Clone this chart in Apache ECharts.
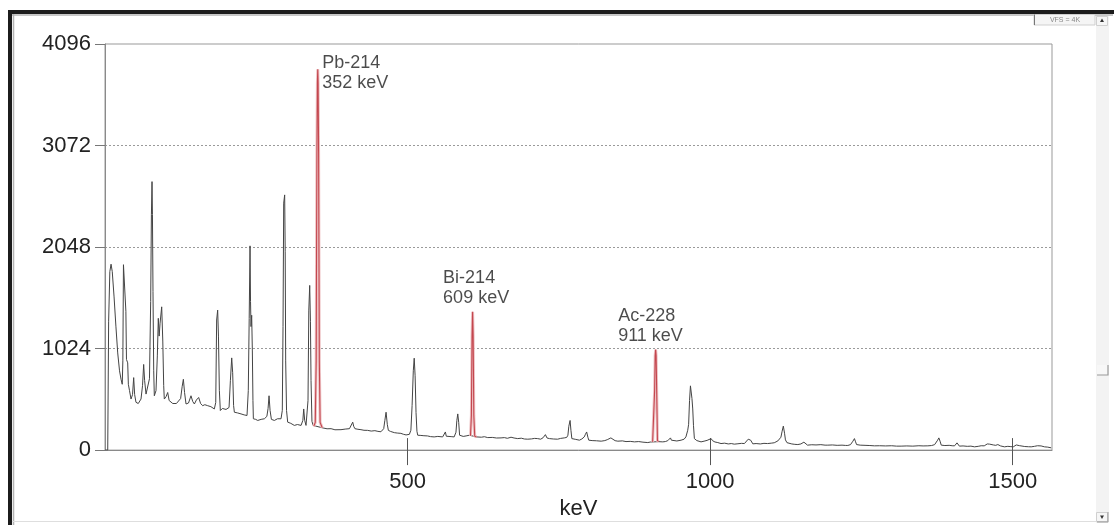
<!DOCTYPE html>
<html><head><meta charset="utf-8">
<script src="https://cdn.jsdelivr.net/npm/echarts@6/dist/echarts.min.js"></script>
<style>html,body{margin:0;padding:0;background:#fff}#c{width:1119px;height:525px}</style>
</head><body><div id="c"></div>
<script>
// ---- data (keV, counts) ----
const yTickValues = [0, 1024, 2048, 3072, 4096];
const xTickValues = [500, 1000, 1500];
const xMax = 1565;
const spectrum = [
[0,0],[4.5,0],[6,1300],[8,1800],[10,1875],[12,1800],[15,1545],[18,1250],[21,980],[24,800],[26.5,714],[28.5,664],[29.5,900],[30.5,1870],[33.5,1870],[34.5,1400],[35.5,914],[37.5,880],[38.6,664],[40.5,600],[43,515],[45.5,560],[47.4,731],[49,560],[51.2,482],[55,470],[59.5,515],[62,650],[63.9,864],[65.5,700],[67.8,565],[71,560],[73.5,720],[75.5,1500],[76.7,2375],[77.7,2708],[78.4,2375],[79.3,1600],[80.5,800],[81.5,548],[84.3,600],[86.5,950],[88.1,1329],[89.5,1150],[91,1280],[93.7,1445],[95.5,1100],[97,650],[98,515],[101,540],[103.6,581],[106,500],[109,482],[112,470],[114.6,465],[118,470],[121,480],[125,520],[127.5,640],[129.5,714],[131.5,580],[133.9,465],[138,475],[142.1,548],[145,490],[147.7,465],[151,505],[154.8,531],[158,470],[161.4,448],[165,458],[169.7,448],[175,438],[180.7,415],[183,480],[184.5,1312],[186.2,1412],[187.5,1150],[189,600],[190.6,399],[194,420],[197.2,432],[200,410],[202.8,399],[205,430],[207.2,700],[209.4,930],[211,780],[212.5,450],[213.8,382],[219,375],[224.8,365],[230,355],[234.7,349],[236.8,600],[238.3,1329],[239.7,2060],[240.5,1500],[241.3,1246],[242.4,1360],[243.5,1000],[244.5,500],[245.2,316],[249,310],[252.4,299],[258,310],[263.4,316],[267.5,340],[269.5,420],[271.1,548],[272.8,400],[275,310],[279.9,299],[285,316],[290.9,316],[293,400],[294.2,1246],[295.3,2491],[296.9,2574],[297.8,2000],[298.6,900],[300,400],[301.9,282],[307,270],[312.9,249],[318,258],[324,249],[327,300],[328.4,415],[330,300],[332.2,249],[334,262],[335.5,500],[336.8,1412],[338.3,1661],[339.5,1300],[340.5,700],[342,290],[344,249],[345,240],
[359,225],[362,230],[367,215],[373.6,216],[380,205],[390,206],[397,212],[404,216],[407,230],[409.4,282],[411,240],[413,216],[418,210],[423,206],[428,200],[434,199],[440,192],[446,196],[451,189],[456,185],[460.6,216],[462.5,300],[464.5,382],[466.5,260],[468.3,199],[472,188],[478.2,176],[483,172],[489,169],[493,160],[497.5,153],[503,159],[505.5,200],[507.5,450],[509.5,800],[511,927],[512.5,750],[514,380],[515.5,190],[516.8,150],[522,148],[527,145],[533,143],[538,136],[544,133],[550,138],[558,133],[560.5,150],[562.5,183],[564,140],[566,133],[572,136],[577,133],[580,180],[581.5,300],[583,365],[584.5,280],[586,150],[587,133],[592,138],[596.7,143],[602,150],[604,145],
[614,133],[616,133],[622,130],[627,135],[632.5,126],[640,128],[647,122],[654.5,123],[660,126],[665,119],[671,130],[676,122],[682,116],[688,120],[693,112],[698.7,110],[705,113],[710,118],[715,116],[720,110],[724,125],[727.8,156],[730.5,122],[734.5,116],[741,112],[748,110],[753,118],[759,123],[763,128],[765,150],[766.5,240],[768.6,299],[770,200],[771.5,116],[778,108],[784,100],[788,112],[792,133],[794,160],[796,183],[798,130],[799.5,100],[805,96],[812,94],[820,90],[826,96],[830,105],[833,118],[836,123],[839,104],[843,95],[847.5,90],[855,93],[861,86],[868,88],[875,83],[882,86],[889,80],[897,76],[902,82],[905,83],
[915,85],[918,85],[921.8,83],[926,86],[930,95],[932.5,112],[934.5,123],[936,100],[938,83],[945,92],[952,100],[955,120],[957,110],[960,133],[963,200],[964.5,260],[966,500],[967.5,648],[968.8,640],[970,520],[971.3,415],[972.5,250],[974,116],[978,96],[985,83],[990,90],[995,98],[998,105],[1001.7,116],[1004,95],[1008,82],[1012.7,76],[1018,66],[1024,70],[1030,62],[1035,66],[1040,60],[1046,64],[1052,68],[1056.7,66],[1060,80],[1063,110],[1065,123],[1067,100],[1070.6,63],[1076,66],[1083,62],[1089,68],[1095,66],[1101,70],[1106,74],[1109,88],[1112,93],[1115,105],[1117,130],[1119,190],[1121,242],[1123,170],[1124.5,103],[1127,75],[1129,60],[1135,62],[1140,58],[1145,56],[1150,62],[1153,75],[1155,80],[1157.5,62],[1161,50],[1168,54],[1175,52],[1183,55],[1190,50],[1194.5,50],[1202,52],[1210,48],[1218,50],[1224,47],[1227.6,47],[1232,55],[1234.5,75],[1236,90],[1238.5,116],[1240,90],[1242,56],[1248,50],[1256,48],[1264,46],[1271.6,43],[1280,44],[1290,42],[1300,44],[1308,40],[1315.7,40],[1325,42],[1335,40],[1345,44],[1352,42],[1359.8,43],[1366,46],[1371,55],[1373.5,66],[1376,100],[1378,123],[1380,90],[1382,50],[1388,46],[1395,48],[1400,44],[1404,43],[1406,55],[1408,73],[1410,55],[1412,40],[1418,42],[1425,38],[1431,40],[1437,33],[1443,38],[1448,44],[1453,43],[1456,50],[1458,62],[1460,73],[1462,60],[1464.5,50],[1468,52],[1472,48],[1475.5,56],[1480,42],[1486.5,33],[1492,38],[1497,35],[1501,33],[1504,45],[1506,52],[1508.6,60],[1511,45],[1514,33],[1520,36],[1526,34],[1530.6,33],[1536,38],[1541,44],[1544,50],[1547,42],[1552.6,33],[1558,30],[1563.6,23]
];
const pb214 = [[345,240],[347.5,280],[349,900],[350.2,3000],[351,3700],[351.6,3840],[352.2,3700],[353,3000],[354.2,900],[355.5,280],[359,225]];
const bi214 = [[604,145],[605.5,350],[606.6,1150],[607.5,1395],[608.4,1150],[609.5,350],[611,140],[614,133]];
const ac228 = [[905,83],[907,95],[908.3,600],[909.2,950],[910,1013],[910.8,950],[911.7,600],[913,95],[915,85]];
const peakNames = ['Pb-214', 'Bi-214', 'Ac-228'];
const peakEnergies = ['352 keV', '609 keV', '911 keV'];

// ---- chart ----
const FONT = '"Liberation Sans", Arial, Helvetica, sans-serif';
const chart = echarts.init(document.getElementById('c'));
const redPeaks = [pb214, bi214, ac228];
const tops = redPeaks.map(p => p.reduce((a, b) => (b[1] > a[1] ? b : a)));
const labelOffsets = [[5, -16], [-29, -43], [-37, -43]];
const RED = '#c4474f';
const PINK = '#eec3c5';
const plain = v => String(v);

const option = {
  animation: false,
  backgroundColor: '#ffffff',
  grid: { left: 105, right: 67, top: 44, bottom: 70, show: true, borderColor: '#999', borderWidth: 1, backgroundColor: 'transparent' },
  xAxis: [
    {
      type: 'value', min: 0, max: xMax, position: 'bottom',
      name: 'keV', nameLocation: 'middle', nameGap: 45,
      nameTextStyle: { fontSize: 22, color: '#222', fontFamily: FONT },
      axisLine: { show: true, lineStyle: { color: '#8a8a8a', width: 1 } },
      axisTick: { show: true, inside: false, length: 15, customValues: xTickValues, lineStyle: { color: '#555' } },
      axisLabel: { customValues: xTickValues, formatter: plain, fontSize: 22, color: '#222', margin: 21, fontFamily: FONT },
      splitLine: { show: false }
    },
    {
      type: 'value', min: 0, max: xMax, position: 'bottom',
      axisLine: { show: false },
      axisTick: { show: true, inside: true, length: 12, customValues: xTickValues, lineStyle: { color: '#555' } },
      axisLabel: { show: false },
      splitLine: { show: false }
    }
  ],
  yAxis: {
    type: 'value', min: 0, max: 4096, interval: 1024,
    axisLine: { show: true, lineStyle: { color: '#8a8a8a' } },
    axisTick: { show: true, length: 10, lineStyle: { color: '#777' } },
    axisLabel: { formatter: plain, fontSize: 22, color: '#222', margin: 14, fontFamily: FONT },
    splitLine: { show: true, showMinLine: false, showMaxLine: false, lineStyle: { color: '#9a9a9a', type: [2, 2], width: 1 } }
  },
  series: [
    {
      type: 'line', data: spectrum, symbol: 'none', showSymbol: false, silent: true, z: 2,
      lineStyle: { color: '#444', width: 1 }
    },
    ...redPeaks.map(p => ({
      type: 'line', data: p, symbol: 'none', showSymbol: false, silent: true, z: 3,
      lineStyle: { color: PINK, width: 3 }
    })),
    ...redPeaks.map(p => ({
      type: 'line', data: p, symbol: 'none', showSymbol: false, silent: true, z: 4,
      lineStyle: { color: RED, width: 1.1 }
    })),
    {
      type: 'scatter', silent: true, z: 5, symbolSize: 1,
      itemStyle: { color: 'rgba(0,0,0,0)' },
      data: tops.map((t, i) => ({
        value: t,
        label: { position: labelOffsets[i] }
      })),
      label: {
        show: true, align: 'left', verticalAlign: 'top',
        fontSize: 18, lineHeight: 20, color: '#1e1e1e', fontFamily: FONT,
        formatter: p => peakNames[p.dataIndex] + '\n' + peakEnergies[p.dataIndex]
      }
    }
  ],
  graphic: [
    { type: 'rect', shape: { x: 8, y: 10, width: 1106, height: 4 }, style: { fill: '#1c1c1c' } },
    { type: 'rect', shape: { x: 8, y: 10, width: 4, height: 515 }, style: { fill: '#1c1c1c' } },
    { type: 'line', shape: { x1: 12, y1: 15, x2: 1113, y2: 15 }, style: { stroke: '#b4b4b4', lineWidth: 1.5 } },
    { type: 'line', shape: { x1: 13.5, y1: 14, x2: 13.5, y2: 525 }, style: { stroke: '#b4b4b4', lineWidth: 1.5 } },
    { type: 'line', shape: { x1: 12, y1: 521.5, x2: 1096, y2: 521.5 }, style: { stroke: '#dedede' } },
    { type: 'rect', shape: { x: 1096, y: 16, width: 13, height: 507 }, style: { fill: '#f3f3f3' } },
    { type: 'rect', shape: { x: 1096.5, y: 16.5, width: 11, height: 9 }, style: { fill: '#f6f6f6', stroke: '#d0d0d0' } },
    { type: 'polygon', shape: { points: [[1100, 22], [1104, 22], [1102, 18.5]] }, style: { fill: '#333' } },
    { type: 'rect', shape: { x: 1097, y: 365, width: 11, height: 10 }, style: { fill: '#f7f7f7' } },
    { type: 'polyline', shape: { points: [[1097, 375], [1108, 375], [1108, 365]] }, style: { stroke: '#999', lineWidth: 1.2 } },
    { type: 'rect', shape: { x: 1096.5, y: 512.5, width: 11, height: 9 }, style: { fill: '#f6f6f6', stroke: '#d0d0d0' } },
    { type: 'polygon', shape: { points: [[1100, 515.5], [1104, 515.5], [1102, 519]] }, style: { fill: '#333' } },
    { type: 'polyline', shape: { points: [[1097, 522], [1108, 522], [1108, 512]] }, style: { stroke: '#999', lineWidth: 1 } },
    { type: 'rect', shape: { x: 1034, y: 14.5, width: 61, height: 10.5 }, style: { fill: '#f5f5f5', stroke: '#cfcfcf' } },
    { type: 'line', shape: { x1: 1034.5, y1: 14.5, x2: 1034.5, y2: 25 }, style: { stroke: '#777' } },
    { type: 'text', x: 1065, y: 20, style: { text: 'VFS = 4K', fontSize: 7, fill: '#888', align: 'center', verticalAlign: 'middle', fontFamily: FONT } }
  ]
};
chart.setOption(option);
</script>
</body></html>
